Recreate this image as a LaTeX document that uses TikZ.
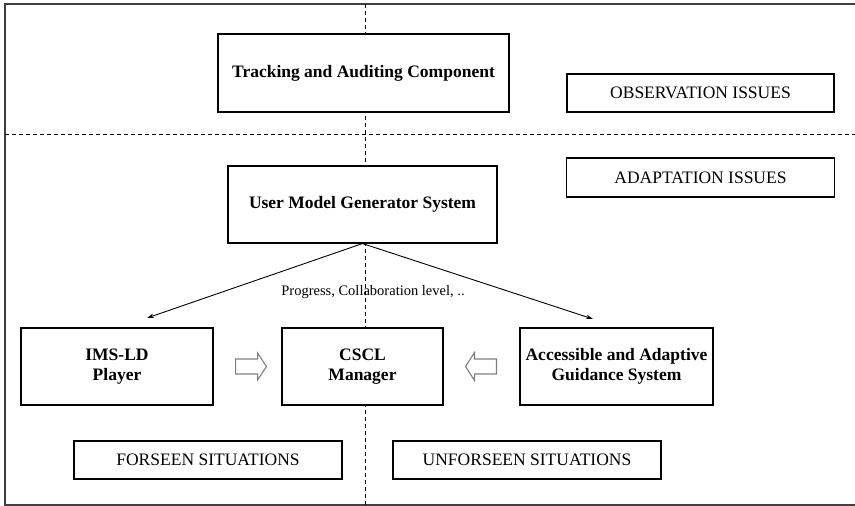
\documentclass[tikz,border=0pt]{standalone}
\usepackage{fontspec}
\setmainfont{Liberation Serif}
\usetikzlibrary{arrows.meta}
\begin{document}
\begin{tikzpicture}[x=1pt,y=1pt,
  box/.style={draw=black, line width=1.1pt, fill=white, inner sep=0pt, align=center},
  bold/.style={box, font=\fontsize{17.5}{20}\selectfont\bfseries},
  plain/.style={box, font=\fontsize{17.5}{20}\selectfont},
  divider/.style={draw=black, line width=0.9pt, dash pattern=on 4pt off 3pt},
  flow/.style={draw=black, line width=0.9pt, -{Stealth[length=7pt,width=4.5pt]}},
  hollow/.style={draw=gray, line width=1.1pt, fill=white},
  lab/.style={font=\fontsize{14.5}{16}\selectfont, inner sep=0pt}
]
\useasboundingbox (0,0) rectangle (855,-506);
\fill[white] (0,0) rectangle (855,-506);
% frame
\draw[line width=1.4pt, draw=black!75] (856,-4) -- (5,-4) -- (5,-505) -- (856,-505);
% dividers
\draw[divider] (365,-4) -- (365,-505);
\draw[divider] (5,-134) -- (856,-134);
% nodes
\node[bold, minimum width=291pt, minimum height=78pt] (tac) at (363.5,-73) {Tracking and Auditing Component};
\node[plain, minimum width=267pt, minimum height=38pt] (obs) at (700.5,-93) {OBSERVATION ISSUES};
\node[plain, minimum width=268pt, minimum height=39pt] (ada) at (700.5,-177.5) {ADAPTATION ISSUES};
\node[bold, minimum width=269pt, minimum height=77pt] (um) at (362.5,-204.5) {User Model Generator System};
\node[bold, minimum width=192pt, minimum height=77pt] (ims) at (117,-366.5) {IMS-LD\\Player};
\node[bold, minimum width=161pt, minimum height=77pt] (cscl) at (362.5,-366.5) {CSCL\\Manager};
\node[bold, minimum width=193pt, minimum height=77pt] (acc) at (616.5,-366.5) {Accessible and Adaptive\\Guidance System};
\node[plain, minimum width=268pt, minimum height=38pt] (fore) at (208,-460) {FORSEEN SITUATIONS};
\node[plain, minimum width=268pt, minimum height=38pt] (unfore) at (527,-460) {UNFORSEEN SITUATIONS};
% connectors
\coordinate (tipL) at (147,-318);
\coordinate (tipR) at (593,-319);
\draw[flow] (um.south) -- (tipL);
\draw[flow] (um.south) -- (tipR);
\node[lab] (prog) at (373,-292) {Progress, Collaboration level, ..};
% hollow arrows
\draw[hollow] ([xshift=22pt,yshift=7.5pt]ims.east) -- ([xshift=44pt,yshift=7.5pt]ims.east)
  -- ([xshift=44pt,yshift=13.5pt]ims.east) -- ([xshift=-15pt]cscl.west)
  -- ([xshift=44pt,yshift=-13.5pt]ims.east) -- ([xshift=44pt,yshift=-7.5pt]ims.east)
  -- ([xshift=22pt,yshift=-7.5pt]ims.east) -- cycle;
\draw[hollow] ([xshift=-23pt,yshift=7.5pt]acc.west) -- ([xshift=-45pt,yshift=7.5pt]acc.west)
  -- ([xshift=-45pt,yshift=14pt]acc.west) -- ([xshift=22pt]cscl.east)
  -- ([xshift=-45pt,yshift=-14pt]acc.west) -- ([xshift=-45pt,yshift=-7.5pt]acc.west)
  -- ([xshift=-23pt,yshift=-7.5pt]acc.west) -- cycle;
\end{tikzpicture}
\end{document}
